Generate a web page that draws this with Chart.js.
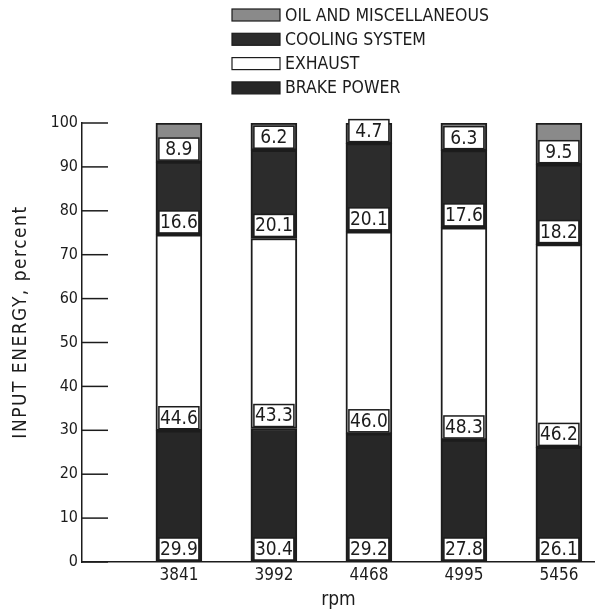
<!DOCTYPE html>
<html lang="en">
<head>
    <meta charset="UTF-8">
    <title>Input energy distribution</title>
    <script src="https://cdn.jsdelivr.net/npm/chart.js"></script>
    <style>
        html, body { margin: 0; padding: 0; background: #fff; }
        #wrap { width: 595px; height: 615px; }
    </style>
</head>
<body>
    <div id="wrap"><canvas id="energyChart"></canvas></div>

    <script>
        // rpm categories and percent of input energy per component
        const rpm = ["3841", "3992", "4468", "4995", "5456"];
        const brakePower = [29.9, 30.4, 29.2, 27.8, 26.1];
        const exhaust = [44.6, 43.3, 46.0, 48.3, 46.2];
        const coolingSystem = [16.6, 20.1, 20.1, 17.6, 18.2];
        const oilMisc = [8.9, 6.2, 4.7, 6.3, 9.5];
        const yTicks = [0, 10, 20, 30, 40, 50, 60, 70, 80, 90, 100];
        const yTitle = "INPUT ENERGY, percent";

        const FONT = "'Liberation Sans Narrow', 'DejaVu Sans Condensed', 'Liberation Sans', sans-serif";
        const INK = "#1c1c1c";

        function toPoints(values) {
            return values.map((v, i) => ({ x: i + 1, y: v }));
        }

        // white boxes with the value, sitting at the bottom of each segment
        const valueBoxes = {
            id: "valueBoxes",
            afterDatasetsDraw(chart) {
                const ctx = chart.ctx;
                ctx.save();
                chart.data.datasets.forEach((ds, di) => {
                    const meta = chart.getDatasetMeta(di);
                    meta.data.forEach((bar, i) => {
                        const w = bar.width - 6;
                        const h = 22;
                        const bottom = bar.base - 2;
                        const left = bar.x - w / 2;
                        ctx.fillStyle = "#fff";
                        ctx.fillRect(left, bottom - h, w, h);
                        ctx.strokeStyle = INK;
                        ctx.lineWidth = 1.5;
                        ctx.strokeRect(left, bottom - h, w, h);
                        ctx.fillStyle = INK;
                        ctx.font = "19px " + FONT;
                        ctx.textAlign = "center";
                        ctx.textBaseline = "middle";
                        ctx.fillText(ds.data[i].y.toFixed(1), bar.x, bottom - h / 2 + 1);
                    });
                });
                ctx.restore();
            }
        };

        // tick marks drawn inward from the y axis line, plus the y title
        const innerTicks = {
            id: "innerTicks",
            afterDraw(chart) {
                const ctx = chart.ctx;
                const y = chart.scales.y;
                const left = chart.chartArea.left;
                ctx.save();
                ctx.strokeStyle = INK;
                ctx.lineWidth = 1.5;
                y.ticks.forEach(t => {
                    const py = y.getPixelForValue(t.value);
                    ctx.beginPath();
                    ctx.moveTo(left, py);
                    ctx.lineTo(left + 26, py);
                    ctx.stroke();
                });
                ctx.translate(21, 322);
                ctx.rotate(-Math.PI / 2);
                ctx.fillStyle = INK;
                ctx.font = "19px " + FONT;
                ctx.letterSpacing = "1.5px";
                ctx.textAlign = "center";
                ctx.textBaseline = "middle";
                ctx.fillText(yTitle, 0, 0);
                ctx.restore();
            }
        };

        // stacked legend at the top, drawn top-down in reverse stack order
        const topLegend = {
            id: "topLegend",
            afterDraw(chart) {
                const ctx = chart.ctx;
                const items = chart.data.datasets.slice().reverse();
                ctx.save();
                items.forEach((ds, k) => {
                    const cy = 15 + k * 24.3;
                    ctx.fillStyle = ds.backgroundColor;
                    ctx.fillRect(232, cy - 6, 48, 12);
                    ctx.strokeStyle = INK;
                    ctx.lineWidth = 1.2;
                    ctx.strokeRect(232, cy - 6, 48, 12);
                    ctx.fillStyle = INK;
                    ctx.font = "17.5px " + FONT;
                    ctx.textAlign = "left";
                    ctx.textBaseline = "middle";
                    ctx.fillText(ds.label, 285, cy + 1);
                });
                ctx.restore();
            }
        };

        const barStyle = {
            borderColor: INK,
            borderWidth: 2,
            borderSkipped: false,
            barThickness: 46
        };

        new Chart(document.getElementById("energyChart"), {
            type: "bar",
            data: {
                datasets: [
                    { label: "BRAKE POWER", data: toPoints(brakePower), backgroundColor: "#272727", ...barStyle },
                    { label: "EXHAUST", data: toPoints(exhaust), backgroundColor: "#ffffff", ...barStyle },
                    { label: "COOLING SYSTEM", data: toPoints(coolingSystem), backgroundColor: "#2c2c2c", ...barStyle },
                    { label: "OIL AND MISCELLANEOUS", data: toPoints(oilMisc), backgroundColor: "#8a8a8a", ...barStyle }
                ]
            },
            options: {
                responsive: true,
                maintainAspectRatio: false,
                animation: false,
                layout: { padding: { top: 123, right: 0, bottom: 0, left: 0 } },
                plugins: {
                    legend: { display: false },
                    tooltip: { enabled: false }
                },
                scales: {
                    x: {
                        type: "linear",
                        stacked: true,
                        offset: false,
                        min: -0.02,
                        max: 5.38,
                        afterBuildTicks: axis => {
                            axis.ticks = rpm.map((_, i) => ({ value: i + 1 }));
                        },
                        ticks: {
                            callback: v => rpm[v - 1] || "",
                            color: INK,
                            font: { family: FONT, size: 17 },
                            padding: 3
                        },
                        grid: { display: false, drawTicks: false },
                        border: { display: true, color: INK, width: 1.5 },
                        title: {
                            display: true,
                            text: "rpm",
                            color: INK,
                            font: { family: FONT, size: 19 },
                            padding: { top: 0, bottom: 4 }
                        },
                        afterFit: axis => { axis.height = 53; }
                    },
                    y: {
                        stacked: true,
                        min: 0,
                        max: 100,
                        afterBuildTicks: axis => {
                            axis.ticks = yTicks.map(v => ({ value: v }));
                        },
                        ticks: {
                            color: INK,
                            font: { family: FONT, size: 16 },
                            padding: 4
                        },
                        grid: { display: false, drawTicks: false },
                        border: { display: true, color: INK, width: 1.5 },
                        title: { display: false },
                        afterFit: axis => { axis.width = 82; }
                    }
                }
            },
            plugins: [valueBoxes, innerTicks, topLegend]
        });
    </script>
</body>
</html>
